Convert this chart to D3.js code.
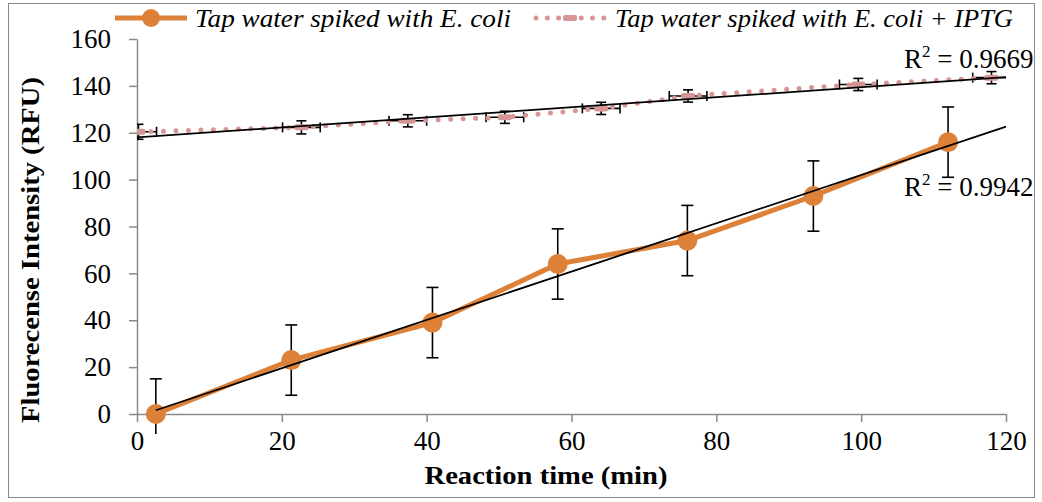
<!DOCTYPE html>
<html><head><meta charset="utf-8">
<script src="https://cdn.jsdelivr.net/npm/d3@7"></script>
<style>body{margin:0;background:#fff}svg{display:block}text{font-family:"Liberation Serif","DejaVu Serif",serif;fill:#000}</style>
</head><body><svg id="c" width="1042" height="502"></svg>
<script>
// ---- data ----
const seriesNames = ["Tap water spiked with E. coli", "Tap water spiked with E. coli + IPTG"];
const ecoliTime = [2.6, 21.3, 40.8, 58.1, 76.0, 93.4, 112.0];
const ecoliRFU  = [0, 23, 39, 64, 74, 93, 116];
const ecoliErr  = [15, 15, 15, 15, 15, 15, 15];
const iptgTime  = [0.2, 22.7, 37.4, 50.8, 64.1, 76.1, 99.6, 118.0];
const iptgRFU   = [120.4, 122.3, 125.1, 126.6, 130.4, 135.7, 140.6, 143.5];
const iptgErrY  = [3.2, 2.8, 2.6, 2.6, 2.6, 2.6, 2.6, 2.6];
const iptgErrX  = [2.5, 2.6, 2.6, 2.6, 2.6, 2.6, 2.6, 2.6];
const r2Labels  = ["0.9942", "0.9669"];
const xTicks = [0, 20, 40, 60, 80, 100, 120];
const yTicks = [0, 20, 40, 60, 80, 100, 120, 140, 160];

const ORANGE = "#DD8138", PINK = "#D69696";
const svg = d3.select("#c");
const L = 137, R = 1006, T = 39, B = 414;
const x = d3.scaleLinear().domain([0, 120]).range([L, R]);
const y = d3.scaleLinear().domain([0, 160]).range([B, T]);

svg.append("rect").attr("x", 8.5).attr("y", 3.5).attr("width", 1026).attr("height", 494)
  .attr("fill", "none").attr("stroke", "#8a8a8a").attr("stroke-width", 1);

svg.append("defs").append("clipPath").attr("id", "pa").append("rect")
  .attr("x", L).attr("y", T - 20).attr("width", R - L).attr("height", B - T + 40);

// axes
const xa = svg.append("g").attr("transform", `translate(0,${B})`)
  .call(d3.axisBottom(x).tickValues(xTicks).tickSize(8).tickSizeOuter(0).tickPadding(9));
const ya = svg.append("g").attr("transform", `translate(${L},0)`)
  .call(d3.axisLeft(y).tickValues(yTicks).tickSize(8).tickSizeOuter(0).tickPadding(18));
[xa, ya].forEach(a => {
  a.select(".domain").attr("stroke", "#8a8a8a").attr("stroke-width", 1.5);
  a.selectAll(".tick line").attr("stroke", "#8a8a8a").attr("stroke-width", 1.5);
  a.selectAll(".tick text").attr("font-size", 27).attr("font-family", "Liberation Serif").attr("fill", "#000");
});
xa.selectAll(".tick text").attr("dy", "0.71em");

// axis titles
svg.append("text").attr("x", 546).attr("y", 484).attr("text-anchor", "middle")
  .attr("font-size", 25).attr("font-weight", "bold").attr("textLength", 243).attr("lengthAdjust", "spacingAndGlyphs")
  .text("Reaction time (min)");
svg.append("text").attr("transform", "translate(39,250) rotate(-90)").attr("text-anchor", "middle")
  .attr("font-size", 25).attr("font-weight", "bold").attr("textLength", 346).attr("lengthAdjust", "spacingAndGlyphs")
  .text("Fluorecense Intensity (RFU)");

const plot = svg.append("g").attr("clip-path", "url(#pa)");
const e1 = ecoliTime.map((t, i) => ({t, v: ecoliRFU[i], e: ecoliErr[i]}));
const e2 = iptgTime.map((t, i) => ({t, v: iptgRFU[i], ey: iptgErrY[i], ex: iptgErrX[i]}));

// error bars orange
const eb1 = plot.append("g").attr("stroke", "#000").attr("stroke-width", 1.6);
e1.forEach(d => {
  eb1.append("line").attr("x1", x(d.t)).attr("x2", x(d.t)).attr("y1", y(d.v - d.e)).attr("y2", y(d.v + d.e));
  [d.v - d.e, d.v + d.e].forEach(v => { if (v >= 0) eb1.append("line").attr("x1", x(d.t) - 6).attr("x2", x(d.t) + 6).attr("y1", y(v)).attr("y2", y(v)); });
});
// error bars pink
const eb2 = plot.append("g").attr("stroke", "#000").attr("stroke-width", 1.6);
e2.forEach(d => {
  eb2.append("line").attr("x1", x(d.t)).attr("x2", x(d.t)).attr("y1", y(d.v - d.ey)).attr("y2", y(d.v + d.ey));
  [d.v - d.ey, d.v + d.ey].forEach(v => eb2.append("line").attr("x1", x(d.t) - 5).attr("x2", x(d.t) + 5).attr("y1", y(v)).attr("y2", y(v)));
  eb2.append("line").attr("x1", x(d.t - d.ex)).attr("x2", x(d.t + d.ex)).attr("y1", y(d.v)).attr("y2", y(d.v));
  [d.t - d.ex, d.t + d.ex].forEach(t => eb2.append("line").attr("x1", x(t)).attr("x2", x(t)).attr("y1", y(d.v) - 5).attr("y2", y(d.v) + 5));
});

const line = d3.line().x(d => x(d.t)).y(d => y(d.v));
plot.append("path").datum(e2).attr("d", line).attr("fill", "none").attr("stroke", PINK)
  .attr("stroke-width", 5).attr("stroke-linecap", "round").attr("stroke-dasharray", "0 12.5");
plot.selectAll(".pm").data(e2).join("rect").attr("x", d => x(d.t) - 7).attr("y", d => y(d.v) - 3)
  .attr("width", 14).attr("height", 6).attr("rx", 2).attr("fill", PINK);

plot.append("path").datum(e1).attr("d", line).attr("fill", "none").attr("stroke", ORANGE).attr("stroke-width", 5);
svg.selectAll(".om").data(e1).join("circle").attr("cx", d => x(d.t)).attr("cy", d => y(d.v)).attr("r", 10).attr("fill", ORANGE);

// linear trendlines
function fit(ts, vs) {
  const mx = d3.mean(ts), my = d3.mean(vs);
  let sxy = 0, sxx = 0;
  ts.forEach((t, i) => { sxy += (t - mx) * (vs[i] - my); sxx += (t - mx) * (t - mx); });
  const m = sxy / sxx; return t => my + m * (t - mx);
}
const f1 = fit(ecoliTime, ecoliRFU), f2 = fit(iptgTime, iptgRFU);
svg.append("line").attr("x1", x(ecoliTime[0])).attr("y1", y(f1(ecoliTime[0]))).attr("x2", x(120)).attr("y2", y(f1(120)))
  .attr("stroke", "#000").attr("stroke-width", 1.8);
svg.append("line").attr("x1", x(0)).attr("y1", y(f2(0))).attr("x2", x(120)).attr("y2", y(f2(120)))
  .attr("stroke", "#000").attr("stroke-width", 1.8);

// R² labels
function r2(xp, yp, val) {
  const t = svg.append("text").attr("x", xp).attr("y", yp).attr("font-size", 27);
  t.append("tspan").text("R");
  t.append("tspan").attr("font-size", 17).attr("dy", -11).text("2");
  t.append("tspan").attr("dy", 11).text(" = " + val);
}
r2(904, 196, r2Labels[0]);
r2(904, 68, r2Labels[1]);

// legend
svg.append("line").attr("x1", 115).attr("x2", 187).attr("y1", 18).attr("y2", 18).attr("stroke", ORANGE).attr("stroke-width", 5);
svg.append("circle").attr("cx", 151).attr("cy", 18).attr("r", 9).attr("fill", ORANGE);
svg.append("text").attr("x", 195).attr("y", 27).attr("font-size", 26).attr("font-style", "italic")
  .attr("textLength", 316).attr("lengthAdjust", "spacingAndGlyphs").text(seriesNames[0]);
svg.append("line").attr("x1", 536).attr("x2", 604).attr("y1", 18).attr("y2", 18).attr("stroke", PINK)
  .attr("stroke-width", 5).attr("stroke-linecap", "round").attr("stroke-dasharray", "0 11.3");
svg.append("rect").attr("x", 563).attr("y", 15).attr("width", 14).attr("height", 6).attr("rx", 2).attr("fill", PINK);
svg.append("text").attr("x", 615).attr("y", 27).attr("font-size", 26).attr("font-style", "italic")
  .attr("textLength", 398).attr("lengthAdjust", "spacingAndGlyphs").text(seriesNames[1]);
</script></body></html>
